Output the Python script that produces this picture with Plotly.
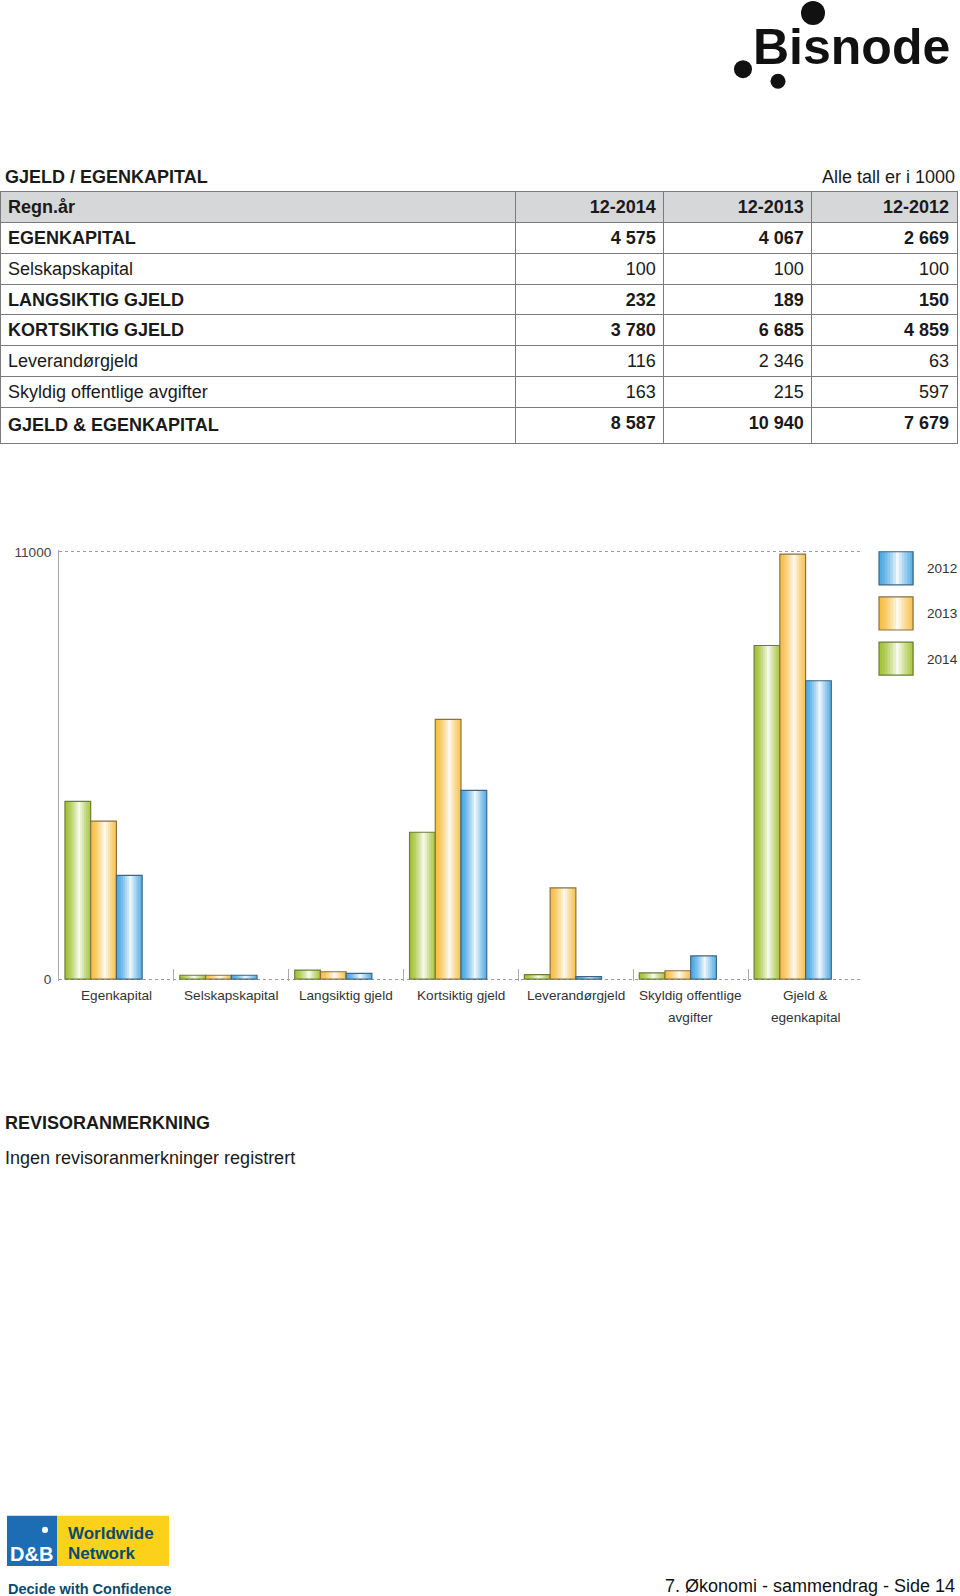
import plotly.graph_objects as go

W = 960
H_FIG = 1612
# empirical page mapping observed: screen_y ~= OFF + SCALE * figure_y
OFF, SCALE = 7.0, 0.99

# ---------------- data ----------------
categories = ["Egenkapital", "Selskapskapital", "Langsiktig gjeld", "Kortsiktig gjeld",
              "Leverandørgjeld", "Skyldig offentlige avgifter", "Gjeld & egenkapital"]
v2014 = [4575, 100, 232, 3780, 116, 163, 8587]
v2013 = [4067, 100, 189, 6685, 2346, 215, 10940]
v2012 = [2669, 100, 150, 4859, 63, 597, 7679]

row_labels = ["EGENKAPITAL", "Selskapskapital", "LANGSIKTIG GJELD", "KORTSIKTIG GJELD",
              "Leverandørgjeld", "Skyldig offentlige avgifter", "GJELD & EGENKAPITAL"]
row_bold = [True, False, True, True, False, False, True]
year_headers = ["12-2014", "12-2013", "12-2012"]
legend_years = ["2012", "2013", "2014"]
y_ticks = [0, 11000]

FONT = "Liberation Sans, Arial, Helvetica, sans-serif"

def px(x):
    return x / W

def fy(y):
    return (y - OFF) / SCALE

def py(y):
    return 1 - fy(y) / H_FIG

def hex2rgb(h):
    h = h.lstrip("#")
    return tuple(int(h[i:i + 2], 16) for i in (0, 2, 4))

def grad(base, n):
    r, g, b = hex2rgb(base)
    out = []
    for i in range(n):
        t = (i + 0.5) / n
        w = max(0.0, 1 - abs(t - 0.55) / 0.5) ** 1.3 * 0.93
        out.append("rgb(%d,%d,%d)" % (r + (255 - r) * w, g + (255 - g) * w, b + (255 - b) * w))
    return out

series = [
    ("2014", v2014, "#a4c43a", "#6e7c3a"),
    ("2013", v2013, "#f8bf45", "#8a7045"),
    ("2012", v2012, "#4faae3", "#3d6685"),
]

fig = go.Figure()

# ---------------- table ----------------
def fmt(v):
    return "{:,}".format(v).replace(",", " ")

cols = [row_labels] + [[fmt(v) for v in vals] for vals in (v2014, v2013, v2012)]
ROW_H = 30.5 / SCALE

fig.add_trace(go.Table(
    domain=dict(x=[px(0), px(957)], y=[py(470), py(193)]),
    columnwidth=[515, 148, 148, 145],
    header=dict(values=["Regn.år"] + year_headers,
                fill_color="#d6d7d9", line=dict(color="#7a7a7a", width=1),
                align=["left", "right", "right", "right"],
                font=dict(family=FONT, size=18, color="#1a1a1a", weight="bold"), height=ROW_H),
    cells=dict(values=cols, fill_color="white", line=dict(color="#7a7a7a", width=1),
               align=["left", "right", "right", "right"],
               font=dict(family=FONT, size=18, color="#1a1a1a"), height=ROW_H),
))
# per-cell font weight (bold rows), column-major grid
fig._data[0]["cells"]["font"]["weight"] = [["bold" if bb else "normal" for bb in row_bold]
                                           for _ in range(4)]

# ---------------- bars ----------------
NS = 12
BW = 0.224
base_off = -0.448
for k, (name, vals, col, edge) in enumerate(series):
    off0 = base_off + k * BW
    seg = BW / NS
    cs = grad(col, NS)
    for i in range(NS):
        wdt = seg * 1.6 if i < NS - 1 else seg
        fig.add_trace(go.Bar(x=categories, y=vals, width=wdt, offset=off0 + i * seg,
                             marker=dict(color=cs[i], line=dict(width=0)),
                             showlegend=False, hoverinfo="skip"))
    fig.add_trace(go.Bar(x=categories, y=vals, width=BW, offset=off0, name=name,
                         marker=dict(color="rgba(0,0,0,0)", line=dict(color=edge, width=1.2)),
                         showlegend=False))

# y axis: 0 at screen y=978, 11000 at y=552; pad the range a little so the
# dotted gridlines at both ends are not clipped away
Y0_PIX, Y1_PIX = 978, 552
PAD = 45
ppu = (Y0_PIX - Y1_PIX) / (y_ticks[1] - y_ticks[0])
dom_bottom = Y0_PIX + PAD * ppu
dom_top = Y1_PIX - PAD * ppu

fig.update_layout(
    width=W, height=H_FIG, margin=dict(l=0, r=0, t=0, b=0),
    paper_bgcolor="white", plot_bgcolor="white", barmode="overlay",
    font=dict(family=FONT, color="#333"),
    xaxis=dict(domain=[px(59), px(863)], type="category", showticklabels=False,
               ticks="inside", tickson="boundaries", ticklen=12, tickcolor="#aaaaaa",
               tickwidth=1, showline=False, showgrid=False, zeroline=False, fixedrange=True),
    yaxis=dict(domain=[py(dom_bottom), py(dom_top)],
               range=[y_ticks[0] - PAD, y_ticks[1] + PAD], tickvals=y_ticks,
               ticktext=[str(v) for v in y_ticks], ticks="", ticklabelstandoff=4,
               tickfont=dict(size=13.6, color="#444"), showline=True, linecolor="#aaaaaa",
               linewidth=1, showgrid=True, gridcolor="#9a9a9a", griddash="dot",
               gridwidth=1, zeroline=False, fixedrange=True),
)

# category labels
label_lines = {"Skyldig offentlige avgifter": ["Skyldig offentlige", "avgifter"],
               "Gjeld & egenkapital": ["Gjeld &", "egenkapital"]}
for i, c in enumerate(categories):
    lines = label_lines.get(c, [c])
    for j, ln in enumerate(lines):
        fig.add_annotation(x=i, xref="x", y=py(994 + 22 * j), yref="paper", text=ln,
                           showarrow=False, xanchor="center", yanchor="middle",
                           font=dict(size=13.6, color="#333"))

# ---------------- legend (drawn) ----------------
leg_colors = {"2012": ("#4faae3", "#3d6685"), "2013": ("#f8bf45", "#8a7045"),
              "2014": ("#a4c43a", "#6e7c3a")}
for j, yr in enumerate(legend_years):
    top = 552 + 45 * j
    x0, x1 = 879, 913
    col, edge = leg_colors[yr]
    cs = grad(col, NS)
    seg = (x1 - x0) / NS
    for i in range(NS):
        fig.add_shape(type="rect", xref="paper", yref="paper",
                      x0=px(x0 + i * seg), x1=px(x0 + (i + 1) * seg + 0.6),
                      y0=py(top + 33), y1=py(top), fillcolor=cs[i], line=dict(width=0))
    fig.add_shape(type="rect", xref="paper", yref="paper", x0=px(x0), x1=px(x1),
                  y0=py(top + 33), y1=py(top), fillcolor="rgba(0,0,0,0)",
                  line=dict(color=edge, width=1.2))
    fig.add_annotation(x=px(925), y=py(top + 17), xref="paper", yref="paper", text=yr,
                       showarrow=False, xanchor="left", yanchor="middle",
                       font=dict(size=13.6, color="#333"))

# ---------------- page texts ----------------
def txt(x, y, s, size, bold=False, anchor="left", color="#1a1a1a"):
    fig.add_annotation(x=px(x), y=py(y), xref="paper", yref="paper",
                       text=("<b>%s</b>" % s) if bold else s, showarrow=False,
                       xanchor=anchor, yanchor="middle",
                       font=dict(size=size, color=color, family=FONT))

txt(3, 178, "GJELD / EGENKAPITAL", 18, bold=True)
txt(957, 178, "Alle tall er i 1000", 18, anchor="right")
txt(3, 1121, "REVISORANMERKNING", 18, bold=True)
txt(3, 1156, "Ingen revisoranmerkninger registrert", 18)
txt(957, 1583, "7. Økonomi - sammendrag - Side 14", 18, anchor="right", color="#111")

# Bisnode logo
txt(952, 49, "Bisnode", 50, bold=True, anchor="right", color="#111")
for cx, cy, r in [(813, 15, 12), (743, 71, 9), (778, 83, 7.5)]:
    fig.add_shape(type="circle", xref="paper", yref="paper", x0=px(cx - r), x1=px(cx + r),
                  y0=py(cy + r), y1=py(cy - r), fillcolor="#111", line=dict(width=0))

# D&B logo
fig.add_shape(type="rect", xref="paper", yref="paper", x0=px(7), x1=px(57),
              y0=py(1563), y1=py(1513), fillcolor="#1d6db4", line=dict(width=0))
fig.add_shape(type="rect", xref="paper", yref="paper", x0=px(57), x1=px(169),
              y0=py(1563), y1=py(1513), fillcolor="#fbd11a", line=dict(width=0))
fig.add_shape(type="circle", xref="paper", yref="paper", x0=px(42), x1=px(48),
              y0=py(1530), y1=py(1524), fillcolor="white", line=dict(width=0))
txt(31, 1551, "D&amp;B", 20, bold=True, anchor="center", color="white")
txt(66, 1531, "Worldwide", 17, bold=True, color="#0b4a6f")
txt(66, 1551, "Network", 17, bold=True, color="#0b4a6f")
txt(6, 1586, "Decide with Confidence", 14.5, bold=True, color="#0b4a6f")

fig.write_html("out.html")
